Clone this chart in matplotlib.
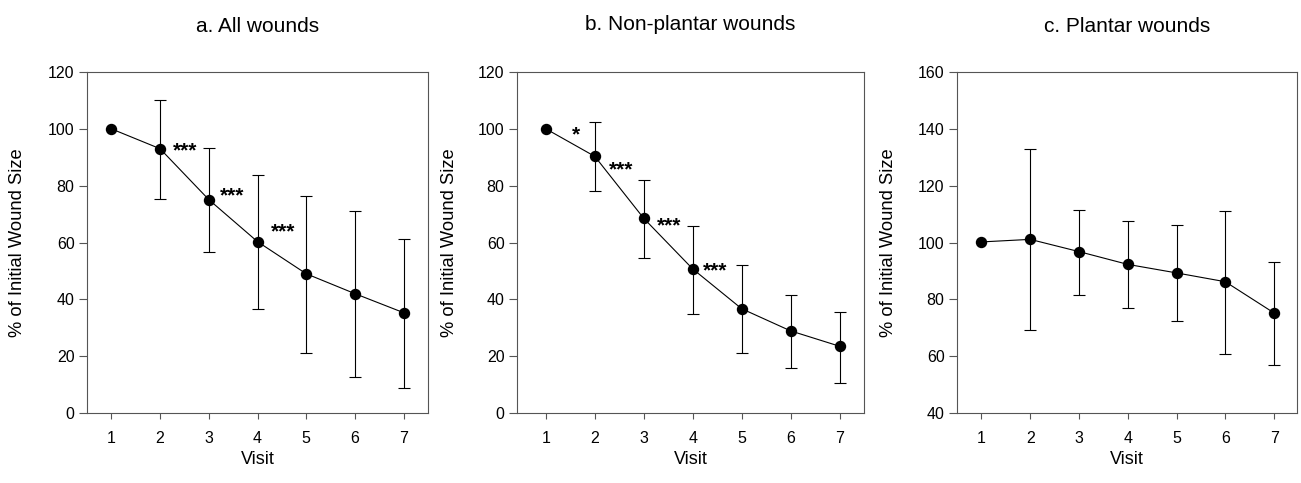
import matplotlib
matplotlib.use("Agg")
import matplotlib.pyplot as plt
import numpy as np

plt.rcParams['font.family'] = ['Liberation Sans', 'DejaVu Sans']

visits = [1, 2, 3, 4, 5, 6, 7]

# a. All wounds
a_mean = [100, 93.0, 75.1, 60.3, 49.0, 42.0, 35.3]
a_upper = [100, 110.3, 93.1, 83.9, 76.4, 71.2, 61.3]
a_lower = [100, 75.3, 56.8, 36.6, 21.2, 12.6, 8.9]

# b. Non-plantar wounds
b_mean = [100, 90.3, 68.5, 50.7, 36.7, 28.9, 23.5]
b_upper = [100, 102.4, 82.1, 65.9, 52.1, 41.5, 35.7]
b_lower = [100, 78.0, 54.7, 35.0, 21.2, 15.8, 10.7]

# c. Plantar wounds
c_mean = [100.2, 101.1, 96.8, 92.3, 89.3, 86.2, 75.2]
c_upper = [100.2, 132.9, 111.6, 107.6, 106.2, 111.1, 93.0]
c_lower = [100.2, 69.1, 81.6, 76.8, 72.3, 60.9, 57.0]

titles = ["a. All wounds", "b. Non-plantar wounds", "c. Plantar wounds"]
ylims = [(0, 120), (0, 120), (40, 160)]
xlims = [(0.5, 7.5), (0.41, 7.5), (0.5, 7.47)]
yticks = [[0, 20, 40, 60, 80, 100, 120], [0, 20, 40, 60, 80, 100, 120],
          [40, 60, 80, 100, 120, 140, 160]]

# significance annotations: (x, y, text)
a_stars = [(2.52, 93.2, "***"), (3.48, 77.3, "***"), (4.52, 64.4, "***")]
b_stars = [(1.61, 98.6, "*"), (2.53, 86.4, "***"), (3.51, 66.7, "***"), (4.46, 50.9, "***")]
c_stars = []

fig = plt.figure(figsize=(13.01, 4.83), dpi=100)
W, H = 1301, 483
boxes = [(87, 428), (517, 864), (957, 1297)]
top_px, bot_px = 72, 413
ylabel_x = [18, 450, 888]
title_y = [27, 25, 27]

data = [(a_mean, a_upper, a_lower, a_stars),
        (b_mean, b_upper, b_lower, b_stars),
        (c_mean, c_upper, c_lower, c_stars)]

spine_col = '#555555'
for i, (mean, up, lo, stars) in enumerate(data):
    l, r = boxes[i]
    ax = fig.add_axes([l / W, 1 - bot_px / H, (r - l) / W, (bot_px - top_px) / H])
    mean_arr = np.array(mean)
    yerr = [mean_arr - np.array(lo), np.array(up) - mean_arr]
    ax.errorbar(visits[1:], mean[1:], yerr=[yerr[0][1:], yerr[1][1:]], fmt='none',
                ecolor='black', elinewidth=0.8, capsize=4.5, capthick=0.8, zorder=2)
    ax.plot(visits, mean, color='black', lw=0.8, marker='o', markersize=7.2,
            markerfacecolor='black', markeredgecolor='black', zorder=3)
    for (sx, sy, st) in stars:
        ax.text(sx, sy - 0.8, st, ha='center', va='center', fontsize=15, fontweight='bold')
    ax.set_xlim(*xlims[i])
    ax.set_ylim(*ylims[i])
    ax.set_xticks(visits)
    ax.set_yticks(yticks[i])
    ax.tick_params(axis='x', direction='out', length=4, width=0.8, color=spine_col,
                   labelsize=11.5, pad=9)
    ax.tick_params(axis='y', direction='out', length=6, width=0.8, color=spine_col,
                   labelsize=11.5, pad=3)
    for s in ax.spines.values():
        s.set_color(spine_col)
        s.set_linewidth(0.8)
    fig.text((l + r) / 2 / W, 1 - title_y[i] / H, titles[i], ha='center', va='center',
             fontsize=15)
    fig.text((l + r) / 2 / W, 1 - 460 / H, "Visit", ha='center', va='center', fontsize=13)
    fig.text(ylabel_x[i] / W, 1 - ((top_px + bot_px) / 2) / H, "% of Initial Wound Size",
             ha='center', va='center', rotation=90, fontsize=13.2)

fig.savefig("out.png", dpi=100)
